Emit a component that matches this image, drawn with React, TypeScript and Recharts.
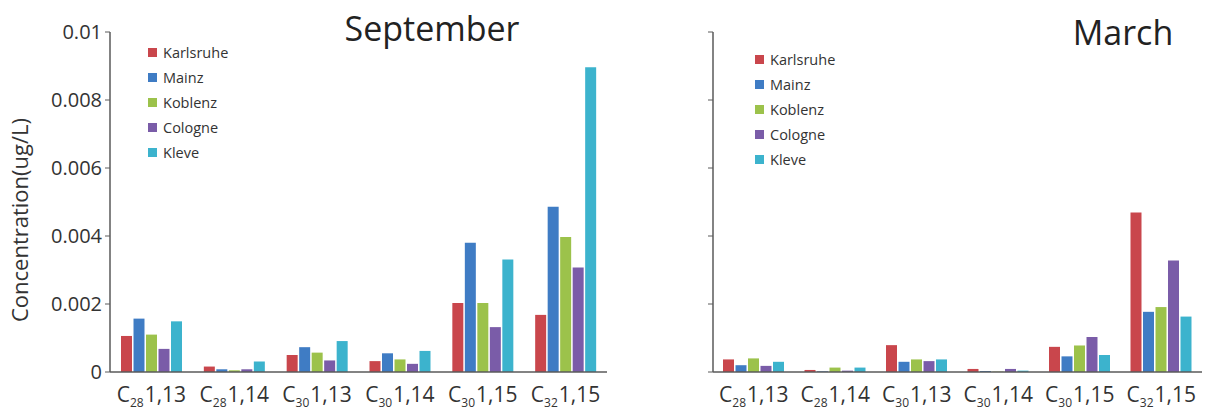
import { BarChart, Bar, XAxis, YAxis } from 'recharts';

const chains = ['28', '28', '30', '30', '30', '32'];
const positions = ['1,13', '1,14', '1,13', '1,14', '1,15', '1,15'];
const categories = chains.map((c, i) => `C${c} ${positions[i]}`);

const sites = ['Karlsruhe', 'Mainz', 'Koblenz', 'Cologne', 'Kleve'];
const colors = ['#c9464c', '#3f7cc4', '#9cc24b', '#7a5ca8', '#3cb3cd'];

// September values (ug/L)
const sepKarlsruhe = [0.00106, 0.00016, 0.0005, 0.00032, 0.00203, 0.00168];
const sepMainz = [0.00157, 0.00008, 0.00073, 0.00055, 0.0038, 0.00486];
const sepKoblenz = [0.0011, 0.00005, 0.00057, 0.00037, 0.00203, 0.00397];
const sepCologne = [0.00068, 0.00008, 0.00034, 0.00024, 0.00132, 0.00307];
const sepKleve = [0.00149, 0.00031, 0.00091, 0.00062, 0.00331, 0.00896];

// March values (ug/L)
const marKarlsruhe = [0.00037, 0.00006, 0.00079, 0.00009, 0.00074, 0.00469];
const marMainz = [0.0002, 0.00002, 0.0003, 0.00003, 0.00046, 0.00177];
const marKoblenz = [0.0004, 0.00013, 0.00037, 0.00001, 0.00078, 0.00191];
const marCologne = [0.00018, 0.00004, 0.00032, 0.00009, 0.00103, 0.00328];
const marKleve = [0.0003, 0.00013, 0.00037, 0.00004, 0.0005, 0.00163];

const yTicks = [0, 0.002, 0.004, 0.006, 0.008, 0.01];

const buildRows = (series: number[][]) =>
    categories.map((name, i) => {
        const row: any = { name };
        sites.forEach((s, j) => (row[s] = series[j][i]));
        return row;
    });

const sepData = buildRows([sepKarlsruhe, sepMainz, sepKoblenz, sepCologne, sepKleve]);
const marData = buildRows([marKarlsruhe, marMainz, marKoblenz, marCologne, marKleve]);

const FONT = '"Open Sans", sans-serif';
const AXIS = '#5a5a5a';

const XTick = (props: any) => {
    const { x, y, payload } = props;
    const i = categories.indexOf(payload.value);
    return (
        <text x={x} y={y + 22} textAnchor="middle" fontSize={21} fill="#333" fontFamily={FONT}>
            <tspan>C</tspan>
            <tspan fontSize={12} dy={5}>{chains[i]}</tspan>
            <tspan dy={-5} dx={1}>{positions[i]}</tspan>
        </text>
    );
};

const LegendBox = ({ left, top }: { left: number; top: number }) => (
    <div style={{ position: 'absolute', left, top, fontFamily: FONT, fontSize: 14.5, color: '#333' }}>
        {sites.map((s, i) => (
            <div key={s} style={{ display: 'flex', alignItems: 'center', height: 25 }}>
                <span style={{ width: 9, height: 9, background: colors[i], marginRight: 6, display: 'inline-block' }} />
                {s}
            </div>
        ))}
    </div>
);

function Panel({ data, showLabels }: { data: any[]; showLabels: boolean }) {
    return (
        <BarChart
            width={showLabels ? 615 : 604}
            height={410}
            data={data}
            margin={showLabels ? { top: 32, right: 8, bottom: 0, left: 50 } : { top: 32, right: 7, bottom: 0, left: 48 }}
            barSize={11}
            barGap={1.5}
        >
            <XAxis
                dataKey="name"
                height={38}
                tickLine={false}
                axisLine={{ stroke: AXIS, strokeWidth: 1.5 }}
                tick={<XTick />}
                interval={0}
            />
            <YAxis
                width={60}
                domain={[0, 0.01]}
                ticks={yTicks}
                tickSize={5}
                tickMargin={3}
                axisLine={{ stroke: AXIS, strokeWidth: 1.5 }}
                tickLine={{ stroke: AXIS }}
                tick={{ fontSize: 20, fill: '#333', fontFamily: FONT }}
                tickFormatter={(v: number) => (showLabels ? String(v) : '')}
            />
            {sites.map((s, i) => (
                <Bar key={s} dataKey={s} fill={colors[i]} isAnimationActive={false} />
            ))}
        </BarChart>
    );
}

export default function App() {
    return (
        <div style={{ position: 'absolute', left: 0, top: 0, width: 1209, height: 410, background: '#fff', fontFamily: FONT }}>
            <div style={{ position: 'absolute', left: 0, top: 0 }}>
                <Panel data={sepData} showLabels={true} />
            </div>
            <div style={{ position: 'absolute', left: 605, top: 0 }}>
                <Panel data={marData} showLabels={false} />
            </div>
            <LegendBox left={148} top={40} />
            <LegendBox left={755} top={47} />
            <svg width={1209} height={410} style={{ position: 'absolute', left: 0, top: 0, pointerEvents: 'none' }}>
                <text x={432} y={41} textAnchor="middle" fontSize={34} fill="#222" fontFamily={FONT}>September</text>
                <text x={1123} y={45} textAnchor="middle" fontSize={34} fill="#222" fontFamily={FONT}>March</text>
                <text
                    x={22}
                    y={220}
                    transform="rotate(-90 22 220)"
                    textAnchor="middle"
                    dominantBaseline="middle"
                    fontSize={22}
                    fill="#333"
                    fontFamily={FONT}
                >
                    Concentration(ug/L)
                </text>
            </svg>
        </div>
    );
}
